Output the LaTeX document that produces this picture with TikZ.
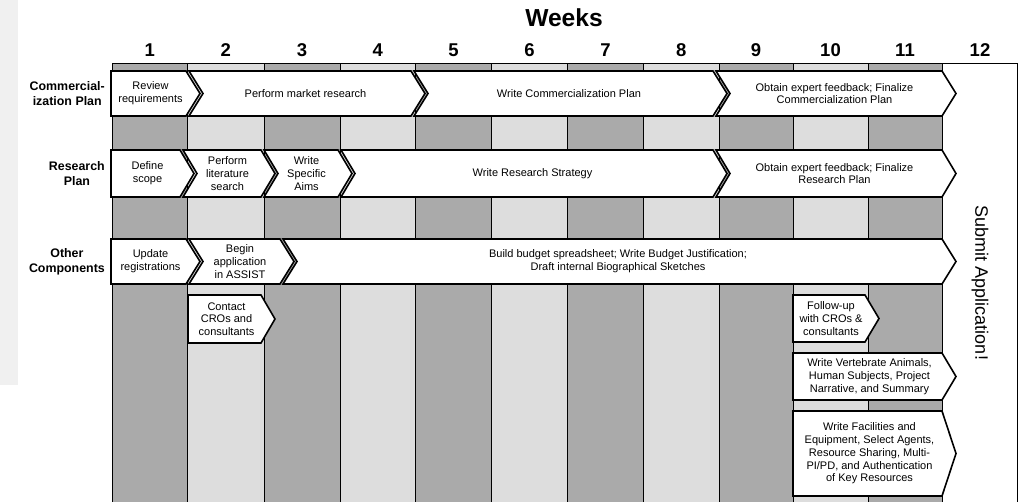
\documentclass[tikz,border=0pt]{standalone}
\usepackage{fontspec}
\setmainfont{Liberation Sans}
\usepackage{tikz}
\usetikzlibrary{calc, positioning}

\definecolor{colDark}{HTML}{AAAAAA}
\definecolor{colLight}{HTML}{DDDDDD}
\definecolor{colPanel}{HTML}{F0F0F0}

% Pfeil: Name, links, Ende, oben, unten, Kerbe (0/1), Text
\newcommand{\chev}[7]{%
  \pgfmathsetmacro{\cmid}{(#4+#5)/2}%
  \pgfmathsetmacro{\ctip}{#3+14}%
  \pgfmathsetmacro{\cnot}{#2+14*#6}%
  \pgfmathsetmacro{\ctxt}{(#2+#3)/2+3.5*#6+2}%
  \draw[chevline] (#2,#4) -- (#3,#4) -- (\ctip,\cmid) -- (#3,#5) -- (#2,#5) -- (\cnot,\cmid) -- cycle;
  \node[chevtext] (#1) at (\ctxt,\cmid) {#7};%
}

\begin{document}
\begin{tikzpicture}[x=1pt, y=-1pt, every node/.style={inner sep=0pt, align=center}]

        % Stile
        \tikzstyle{spalte}=[draw=black, line width=0.8pt]
        \tikzstyle{chevline}=[draw=black, fill=white, line width=1.6pt, line join=miter]
        \tikzstyle{chevtext}=[font=\fontsize{11}{12.7}\selectfont]
        \tikzstyle{woche}=[font=\fontsize{18.5}{20}\selectfont\bfseries]
        \tikzstyle{zeile}=[font=\fontsize{12.4}{15}\selectfont\bfseries, anchor=east]

        \useasboundingbox (0,0) rectangle (1020,501);

        % Rand links
        \fill[colPanel] (0,0) rectangle (18,385);

        % Titel
        \node[font=\fontsize{24.6}{26}\selectfont\bfseries] (titel) at (564,18) {Weeks};

        % Spalten (Wochen)
        \foreach \xa/\xb/\fa [count=\i] in {112/187.5/colDark, 187.5/264/colLight, 264/340/colDark,
            340/415.5/colLight, 415.5/491.5/colDark, 491.5/567.5/colLight, 567.5/643.5/colDark,
            643.5/719/colLight, 719/793/colDark, 793/868/colLight, 868/942/colDark}{
          \filldraw[spalte, fill=\fa] (\xa,63) rectangle (\xb,504);
          \node[woche] (w\i) at ({(\xa+\xb)/2},50) {\i};
        }
        \draw[spalte, fill=white] (942,504) -- (942,63) -- (1017,63) -- (1017,504);
        \node[woche] (w12) at (980,50) {12};

        % Zeilen
        \node[zeile] (kom) at (105,93.5) {Commercial-\\ization Plan};
        \node[zeile] (forsch) at (105,173.5) {Research\\Plan};
        \node[zeile] (andere) at (105,261.5) {Other\\Components};

        % Commercialization Plan
        \chev{review}{111}{186}{71}{116}{0}{Review\\requirements}
        \chev{markt}{189}{411}{71}{116}{1}{Perform market research}
        \chev{komplan}{414}{713}{71}{116}{1}{Write Commercialization Plan}
        \chev{komfeed}{716}{942}{71}{116}{1}{Obtain expert feedback; Finalize\\Commercialization Plan}

        % Research Plan
        \chev{scope}{111}{180}{150}{197}{0}{Define\\scope}
        \chev{literatur}{183}{261}{150}{197}{1}{Perform\\literature\\search}
        \chev{aims}{264}{338}{150}{197}{1}{Write\\Specific\\Aims}
        \chev{strategie}{341}{713}{150}{197}{1}{Write Research Strategy}
        \chev{forfeed}{716}{942}{150}{197}{1}{Obtain expert feedback; Finalize\\Research Plan}

        % Other Components
        \chev{registr}{111}{186}{239}{284}{0}{Update\\registrations}
        \chev{assist}{189}{280}{239}{284}{1}{Begin\\application\\in ASSIST}
        \chev{budget}{283}{942}{239}{284}{1}{Build budget spreadsheet; Write Budget Justification;\\Draft internal Biographical Sketches}

        % Einzelne Aufgaben
        \chev{kontakt}{188}{261}{295}{343}{0}{Contact\\CROs and\\consultants}
        \chev{followup}{793}{865}{295}{342}{0}{Follow-up\\with CROs \&\\consultants}
        \chev{vertebrate}{793}{942}{353}{400}{0}{Write Vertebrate Animals,\\Human Subjects, Project\\Narrative, and Summary}
        \chev{facilities}{793}{942}{411}{496}{0}{Write Facilities and\\Equipment, Select Agents,\\Resource Sharing, Multi-\\PI/PD, and Authentication\\of Key Resources}

        % Abgabe
        \node[rotate=-90, font=\fontsize{18}{20}\selectfont] (submit) at (980,283) {Submit Application!};

\end{tikzpicture}
\end{document}
